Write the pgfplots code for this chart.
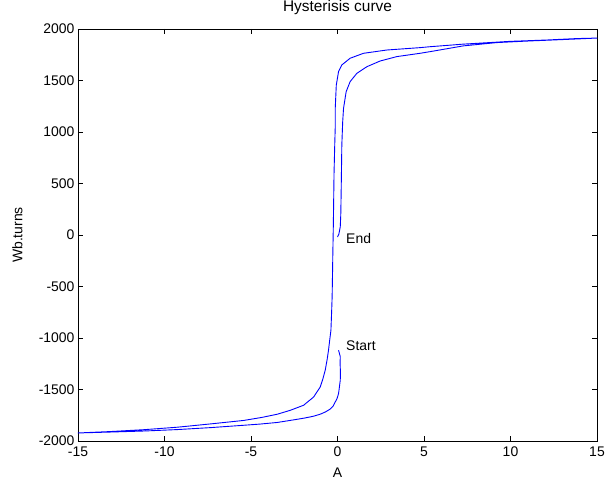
\documentclass[border=0pt]{standalone}
\usepackage{fontspec}
\setmainfont{Liberation Sans}
\usepackage{pgfplots}
\pgfplotsset{compat=1.18}
\begin{document}
\begin{tikzpicture}
\begin{axis}[
  scale only axis, width=519bp, height=412bp,
  xmin=-15, xmax=15, ymin=-2000, ymax=2000,
  xtick={-15,-10,...,15}, ytick={-2000,-1500,...,2000},
  tick align=inside, major tick length=5bp,
  /pgf/number format/assume math mode=true,
  scaled y ticks=false,
  yticklabel style={/pgf/number format/set thousands separator={}},
  tick label style={font=\fontsize{14}{16}\selectfont},
  xticklabel style={yshift=-2bp},
  label style={font=\fontsize{14}{16}\selectfont},
  xlabel={A}, ylabel={Wb.turns},
  xlabel style={at={(axis description cs:0.5,-0.078)}, anchor=center},
  ylabel style={at={(axis description cs:-0.117,0.5)}, anchor=center},
  title={Hysterisis curve},
  title style={font=\fontsize{15.5}{18}\selectfont, at={(axis description cs:0.5,1)}, anchor=center, yshift=16bp},
  axis line style={line width=0.8bp},
  every tick/.style={black, line width=0.6bp},
  clip=false,
]
\addplot[blue, line width=0.9bp, line join=round] coordinates {
(0.06,-1119) (0.16,-1180) (0.15,-1249) (0.17,-1330) (0.16,-1410)
(0.10,-1490) (0.06,-1540) (-0.03,-1590) (-0.13,-1621) (-0.25,-1660)
(-0.42,-1690) (-0.7,-1718) (-1.0,-1740) (-1.4,-1760) (-1.96,-1779)
(-2.73,-1800) (-3.48,-1820) (-4.5,-1836) (-5.4,-1847) (-7.33,-1870)
(-9.25,-1889) (-11.17,-1903) (-13.1,-1913) (-15,-1922)
(-13.1,-1908) (-11.17,-1890) (-9.25,-1866) (-7.33,-1834) (-5.4,-1800)
(-4.4,-1772) (-3.48,-1740) (-2.73,-1702) (-1.96,-1653) (-1.38,-1573)
(-1.0,-1476) (-0.85,-1400) (-0.71,-1313) (-0.6,-1210) (-0.52,-1119)
(-0.45,-1020) (-0.38,-925) (-0.34,-750) (-0.31,-600) (-0.29,-400)
(-0.27,-180) (-0.24,100) (-0.22,350) (-0.20,600) (-0.16,873)
(-0.13,1050) (-0.13,1231) (-0.07,1456) (0.06,1586) (0.25,1651)
(0.73,1716) (1.5,1764) (2.85,1796) (4.77,1819) (5.35,1828)
(7.27,1853) (9.97,1880) (12.08,1893) (13.81,1907) (15,1912)
(13.81,1903) (12,1890) (11.12,1884) (9.2,1868) (7.27,1836)
(5.35,1780) (4.77,1764) (3.43,1732) (2.46,1689) (1.7,1634)
(1.12,1570) (0.73,1489) (0.5,1391) (0.35,1231) (0.30,1100)
(0.25,873) (0.23,630) (0.21,400) (0.19,200) (0.16,79)
(0.08,10) (0.0,-20)
};
\node[anchor=west, font=\fontsize{14}{16}\selectfont] at (axis cs:0.3,-1070) {Start};
\node[anchor=west, font=\fontsize{14}{16}\selectfont] at (axis cs:0.3,-33) {End};
\end{axis}
\pgfresetboundingbox
\path ([shift={(-78bp,-42bp)}]current axis.south west) rectangle ([shift={(8bp,29bp)}]current axis.north east);
\end{tikzpicture}
\end{document}
